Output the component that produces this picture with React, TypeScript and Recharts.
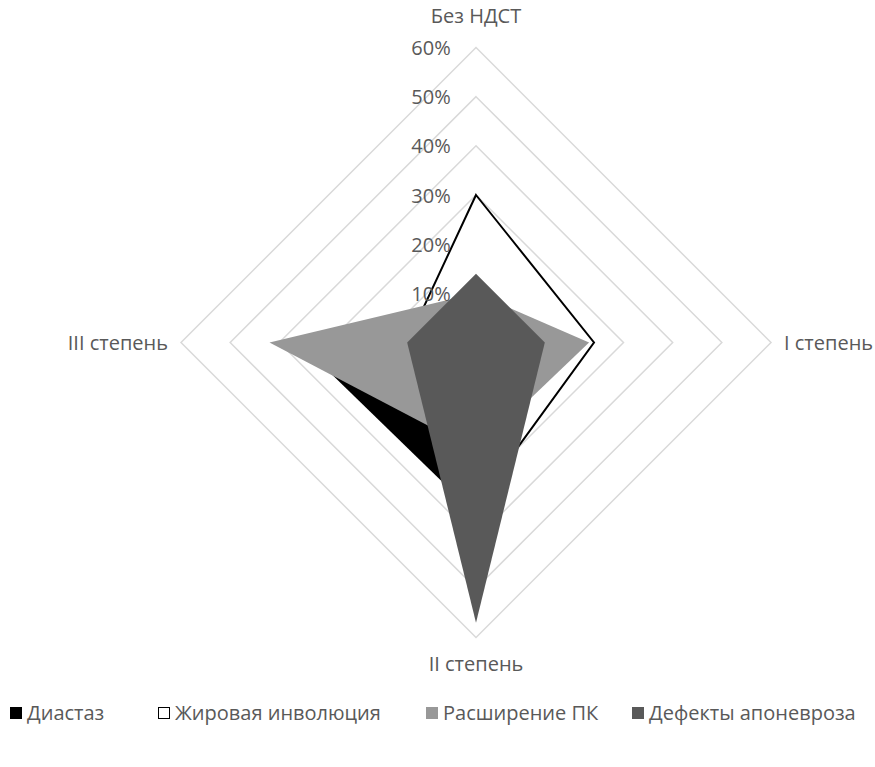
import { RadarChart, Radar, PolarGrid, PolarAngleAxis, PolarRadiusAxis, Legend } from 'recharts';

const categories = ['Без НДСТ', 'I степень', 'II степень', 'III степень'];
// значения в процентах
const diastaz = [10, 20, 35, 36];
const zhirovaya = [30, 24, 33, 14];
const rasshirenie = [10, 23, 22, 42];
const defekty = [14, 14, 57, 14];

const series = [
  { key: 'diastaz', name: 'Диастаз', fill: '#000000', stroke: 'none', legendStroke: '#000000', legendX: 10 },
  { key: 'zhirovaya', name: 'Жировая инволюция', fill: '#ffffff', stroke: '#000000', legendStroke: '#000000', legendX: 158 },
  { key: 'rasshirenie', name: 'Расширение ПК', fill: '#989898', stroke: 'none', legendStroke: '#989898', legendX: 426 },
  { key: 'defekty', name: 'Дефекты апоневроза', fill: '#595959', stroke: 'none', legendStroke: '#595959', legendX: 632 },
];

const data = categories.map((c, i) => ({
  category: c,
  diastaz: diastaz[i],
  zhirovaya: zhirovaya[i],
  rasshirenie: rasshirenie[i],
  defekty: defekty[i],
}));

const CX = 476;
const CY = 342.5;
const FONT = '"Open Sans", sans-serif';
const TEXT = '#595959';

const AngleTick = (props: any) => {
  const { x, y, payload } = props;
  const dx = x - CX;
  const dy = y - CY;
  let tx = x;
  let ty = y;
  let anchor: 'start' | 'middle' | 'end' = 'middle';
  if (Math.abs(dx) > Math.abs(dy)) {
    if (dx > 0) {
      tx = x + 5;
      anchor = 'start';
    } else {
      tx = x - 5;
      anchor = 'end';
    }
  } else if (dy < 0) {
    ty = y - 24;
  } else {
    ty = y + 18;
  }
  return (
    <text x={tx} y={ty} textAnchor={anchor} dominantBaseline="central" fill={TEXT} fontSize={20} fontFamily={FONT}>
      {payload.value}
    </text>
  );
};

const RadiusTick = (props: any) => {
  const { x, y, payload } = props;
  if (payload.value === 0) return null;
  return (
    <text x={x - 45} y={y} textAnchor="middle" dominantBaseline="central" fill={TEXT} fontSize={20} fontFamily={FONT}>
      {payload.value}%
    </text>
  );
};

const LegendContent = () => (
  <div style={{ position: 'relative', height: 28, fontFamily: FONT, fontSize: 20, color: TEXT }}>
    {series.map(s => (
      <div
        key={s.key}
        style={{ position: 'absolute', left: s.legendX, top: 0, display: 'flex', alignItems: 'center', gap: 5, whiteSpace: 'nowrap' }}
      >
        <span
          style={{
            width: 12,
            height: 12,
            boxSizing: 'border-box',
            backgroundColor: s.fill,
            border: `1.5px solid ${s.legendStroke}`,
            display: 'inline-block',
          }}
        />
        <span>{s.name}</span>
      </div>
    ))}
  </div>
);

export default function App() {
  return (
    <div style={{ position: 'absolute', left: 0, top: 0, width: 875, height: 767, background: '#fff' }}>
      <RadarChart width={875} height={767} data={data} cx={CX} cy={CY} outerRadius={295} startAngle={90} endAngle={-270}>
        <PolarGrid gridType="polygon" radialLines={false} stroke="#d9d9d9" strokeWidth={1.5} />
        <PolarAngleAxis dataKey="category" tick={<AngleTick />} tickLine={false} axisLine={false} />
        <PolarRadiusAxis
          angle={90}
          type="number"
          domain={[0, 60]}
          tickCount={7}
          axisLine={false}
          tickLine={false}
          tick={<RadiusTick />}
        />
        {series.map(s => (
          <Radar
            key={s.key}
            name={s.name}
            dataKey={s.key}
            fill={s.fill}
            fillOpacity={1}
            stroke={s.stroke}
            strokeWidth={s.stroke === 'none' ? 0 : 2}
            isAnimationActive={false}
          />
        ))}
        <Legend content={<LegendContent />} wrapperStyle={{ top: 699, left: 0, width: 875 }} />
      </RadarChart>
    </div>
  );
}
